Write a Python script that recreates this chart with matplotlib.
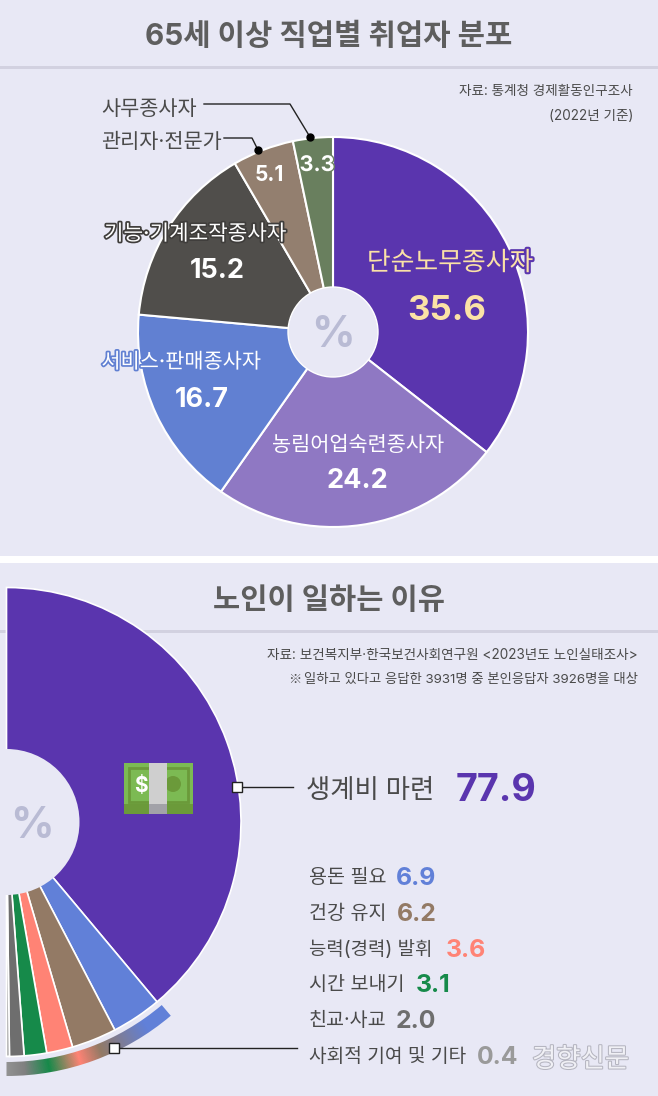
import numpy as np
import matplotlib
matplotlib.use('Agg')
import matplotlib.pyplot as plt
import matplotlib.patheffects as pe
from matplotlib.colors import LinearSegmentedColormap
from matplotlib.patches import Wedge, Rectangle, Circle

plt.rcParams['font.family'] = ['Inter', 'Noto Sans CJK KR', 'DejaVu Sans']

# 65세 이상 직업별 취업자 분포
jobs = ['단순노무종사자', '농림어업숙련종사자', '서비스·판매종사자', '기능·기계조작종사자', '관리자·전문가', '사무종사자']
job_vals = [35.6, 24.2, 16.7, 15.2, 5.1, 3.3]
job_colors = ['#5a35ae', '#8f78c3', '#6180d2', '#504e4b', '#937f6f', '#697f5e']

# 노인이 일하는 이유
reasons = ['생계비 마련', '용돈 필요', '건강 유지', '능력(경력) 발휘', '시간 보내기', '친교·사교', '사회적 기여 및 기타']
reason_vals = [77.9, 6.9, 6.2, 3.6, 3.1, 2.0, 0.4]
reason_colors = ['#5a35ae', '#6180d8', '#937a65', '#ff8375', '#168a4a', '#6e6e6e', '#9a9a9a']

BG = '#e8e8f5'
W, H = 658, 1096


def Y(py):
    return H - py


fig = plt.figure(figsize=(W / 100, H / 100), dpi=100, facecolor='white')
ax = fig.add_axes([0, 0, 1, 1])
ax.set_xlim(0, W)
ax.set_ylim(0, H)
ax.axis('off')

ax.add_patch(Rectangle((0, Y(556)), W, 556, fc=BG, ec='none', zorder=0))
ax.add_patch(Rectangle((0, 0), W, Y(563), fc=BG, ec='none', zorder=0))
ax.add_patch(Rectangle((0, Y(69)), W, 3, fc='#d2d1e0', ec='none', zorder=1))
ax.add_patch(Rectangle((0, Y(633)), W, 3, fc='#d2d1e0', ec='none', zorder=1))


def label(x, py, s, size, color='#4a4a4a', weight='normal', ha='left', stroke=None, sw=2.5):
    t = ax.text(x, Y(py), s, fontsize=size, color=color, fontweight=weight, ha=ha, va='center_baseline', zorder=10)
    if stroke:
        t.set_path_effects([pe.withStroke(linewidth=sw, foreground=stroke)])
    return t


def reset_axes():
    ax.set_xlim(0, W)
    ax.set_ylim(0, H)
    ax.set_aspect('auto')
    ax.axis('off')


# top pie
cx1, cy1, r1 = 333, Y(332), 195
ax.pie(job_vals, center=(cx1, cy1), radius=r1, startangle=90, counterclock=False, colors=job_colors,
       wedgeprops={'edgecolor': 'white', 'linewidth': 1.5}, frame=True)
ax.add_patch(Circle((cx1, cy1), 45, fc=BG, ec='white', lw=1, zorder=5))
reset_axes()
label(cx1, 331, '%', 31, color='#b9bbd4', weight='bold', ha='center')

label(329, 34, '65세 이상 직업별 취업자 분포', 21.4, color='#5e5e5e', weight='bold', ha='center')
label(633, 89, '자료: 통계청 경제활동인구조사', 9.75, color='#4a4a4a', ha='right')
label(633, 114, '(2022년 기준)', 9.75, color='#4a4a4a', ha='right')

label(450, 261, jobs[0], 18.6, color='#fbe2a6', weight='medium', ha='center', stroke='#5a35ae', sw=3)
label(447, 307, '35.6', 25, color='#fbe2a6', weight='bold', ha='center')
label(358, 443, jobs[1], 15, color='white', weight='medium', ha='center')
label(357, 478, '24.2', 19.5, color='white', weight='bold', ha='center')
label(181, 360, jobs[2], 15, color='white', weight='medium', ha='center', stroke='#6180d2', sw=2.5)
label(202, 397, '16.7', 19.5, color='white', weight='bold', ha='center')
label(195, 232, jobs[3], 15.3, color='white', weight='medium', ha='center', stroke='#3f3d3b', sw=2.5)
label(217, 268, '15.2', 19.5, color='white', weight='bold', ha='center')
label(269, 173, '5.1', 15, color='white', weight='bold', ha='center')
label(317, 163, '3.3', 15.5, color='white', weight='bold', ha='center', stroke='#697f5e', sw=2)

label(101, 107, jobs[5], 15, color='#4a4a4a')
label(101, 140, jobs[4], 15, color='#4a4a4a')
ax.plot([204, 290, 310], [Y(104), Y(104), Y(137)], color='#222222', lw=1, zorder=6)
ax.plot([310], [Y(137)], 'o', color='black', ms=5, zorder=7)
ax.plot([224, 252, 258], [Y(138), Y(138), Y(150)], color='#222222', lw=1, zorder=6)
ax.plot([258], [Y(150)], 'o', color='black', ms=5, zorder=7)

# bottom half pie, the values fill only the right half of the circle
cx2, cy2, r2 = 6.5, Y(822), 234.5
clip = Rectangle((7.5, 0), W, H, transform=ax.transData)
wedges, _ = ax.pie(np.array(reason_vals) / np.sum(reason_vals) / 2, center=(cx2, cy2), radius=r2, startangle=90,
                   counterclock=False, colors=reason_colors, normalize=False,
                   wedgeprops={'edgecolor': 'white', 'linewidth': 1.2}, frame=True)
for w in wedges:
    w.set_clip_path(clip)
ax.add_patch(Circle((cx2, cy2), 73, fc=BG, ec='none', zorder=5))
reset_axes()
label(32, 822, '%', 31, color='#b9bbd4', weight='bold', ha='center')

# gradient band under the small slices
band_cmap = LinearSegmentedColormap.from_list('band', [(0, '#929292'), (0.1, '#808080'), (0.24, '#168a4a'),
                                                       (0.42, '#ff8375'), (0.55, '#937a65'), (0.85, '#6180d8'),
                                                       (1, '#6180d8')])
xx, yy = np.meshgrid(np.arange(0, 200), np.arange(Y(1090), Y(990)))
ang = np.clip(np.degrees(np.arctan2(xx - cx2, cy2 - yy)) / 40.3, 0, 1)
img = ax.imshow(ang, cmap=band_cmap, vmin=0, vmax=1, extent=(0, 200, Y(1090), Y(990)), origin='lower', aspect='auto', zorder=3)
img.set_clip_path(Wedge((cx2, cy2), 254, 270, 270 + 40.3, width=14, transform=ax.transData))
reset_axes()

label(329, 598, '노인이 일하는 이유', 21.3, color='#5e5e5e', weight='bold', ha='center')
label(638, 654, '자료: 보건복지부·한국보건사회연구원 <2023년도 노인실태조사>', 9.8, color='#4a4a4a', ha='right')
label(638, 678, '일하고 있다고 응답한 3931명 중 본인응답자 3926명을 대상', 9.6, color='#4a4a4a', ha='right')
label(288, 678, '※', 9.5, color='#4a4a4a').set_family(['Noto Sans CJK KR'])

label(306, 788, reasons[0], 19, color='#4a4a4a', weight='medium')
label(456, 787, '77.9', 27, color=reason_colors[0], weight='bold')

rows_y = [876, 912, 948, 983, 1019, 1055]
vals_x = [396, 397, 446, 416, 396, 477]
name_sizes = [14.1, 14.1, 13.6, 14.1, 14.1, 13.8]
val_colors = reason_colors[1:]
for name, v, py, vx, c, fs in zip(reasons[1:], reason_vals[1:], rows_y, vals_x, val_colors, name_sizes):
    label(309, py, name, fs, color='#4a4a4a')
    label(vx, py, f'{v:.1f}', 17.8, color=c, weight='bold')
label(532, 1057, '경향신문', 19, color='#f0f0f5', weight='medium', stroke='#b5b5c0', sw=1.5)

# money icon
ax.add_patch(Rectangle((124, Y(814)), 69, 51, fc='#7cba53', ec='none', zorder=6))
ax.add_patch(Rectangle((124, Y(814)), 69, 10, fc='#6b9a3a', ec='none', zorder=7))
ax.add_patch(Rectangle((129, Y(802)), 59, 34, fc='none', ec='#6b9a3a', lw=2, zorder=7))
ax.add_patch(Circle((173, Y(784)), 8, fc='#6b9a3a', ec='none', zorder=7))
ax.add_patch(Rectangle((149, Y(804)), 18, 41, fc='#cfcfcf', ec='none', zorder=8))
ax.add_patch(Rectangle((149, Y(814)), 18, 10, fc='#a2a2a8', ec='none', zorder=8))
label(141, 784, '$', 15, color='white', weight='bold', ha='center')

# leaders with square markers
ax.plot([237, 293], [Y(787), Y(787)], color='#222222', lw=1, zorder=6)
ax.plot([237], [Y(787)], 's', mfc='white', mec='#222222', mew=1, ms=7.5, zorder=7)
ax.plot([114, 297], [Y(1048), Y(1048)], color='#222222', lw=1, zorder=6)
ax.plot([114], [Y(1048)], 's', mfc='white', mec='#222222', mew=1, ms=7.5, zorder=7)

fig.savefig('out.png', dpi=100, facecolor='white')
